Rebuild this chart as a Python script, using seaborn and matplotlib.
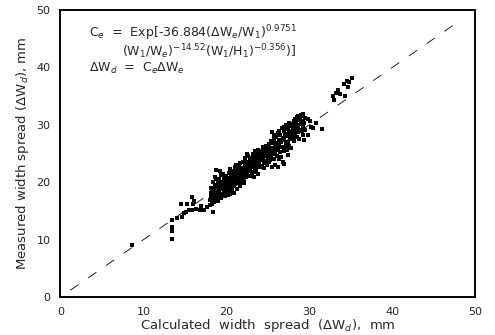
import matplotlib
matplotlib.use("Agg")
import matplotlib.pyplot as plt
import seaborn as sns
import pandas as pd

# Low / scattered points
low_x = [8.6, 13.4, 13.4, 13.4, 13.5, 14.0, 14.6, 14.5, 15.3, 15.9, 16.1, 16.0, 14.9, 15.1, 15.5, 15.9,
         16.4, 16.8, 17.0, 17.3, 17.7, 18.0, 18.35]
low_y = [9.1, 13.4, 12.3, 11.6, 10.1, 13.8, 14.0, 16.2, 16.2, 17.4, 16.8, 16.2, 14.6, 14.9, 15.1, 15.2,
         15.3, 15.1, 15.9, 15.2, 15.7, 16.0, 14.9]

# Main cluster (x, y pairs)
main_pts = [
    (18.0,17.0),(18.1,18.2),(18.2,17.6),(18.2,19.0),(18.3,18.5),(18.4,17.2),(18.4,20.1),(18.5,16.6),(18.5,18.9),(18.6,19.6),(18.6,17.9),(18.7,22.2),(18.7,16.9),(18.8,18.3),(18.8,20.6),(18.9,17.4),(18.9,19.2),(18.3,16.2),(18.6,21.0),(18.9,18.0),
    (19.0,19.9),(19.0,16.8),(19.1,18.6),(19.1,20.5),(19.2,17.5),(19.2,19.3),(19.3,18.0),(19.3,21.3),(19.4,19.7),(19.4,17.2),(19.5,18.8),(19.5,20.1),(19.6,17.9),(19.6,19.0),(19.7,20.8),(19.7,18.3),(19.8,19.6),(19.8,17.6),(19.9,20.3),(19.9,18.9),(19.2,22.0),(19.6,21.5),
    (20.0,19.4),(20.0,21.1),(20.1,18.2),(20.1,20.0),(20.2,19.1),(20.2,20.8),(20.3,21.7),(20.3,18.6),(20.4,20.3),(20.4,19.5),(20.5,22.3),(20.5,18.0),(20.6,20.9),(20.6,19.8),(20.7,21.4),(20.7,18.8),(20.8,20.5),(20.8,22.0),(20.9,19.3),(20.9,21.0),(20.2,17.8),(20.6,18.3),(20.9,18.1),
    (21.0,20.4),(21.0,22.6),(21.1,19.7),(21.1,21.5),(21.2,20.9),(21.2,23.0),(21.3,19.9),(21.3,22.1),(21.4,21.0),(21.4,20.2),(21.5,22.8),(21.5,21.6),(21.6,19.5),(21.6,20.7),(21.7,23.4),(21.7,22.2),(21.8,21.2),(21.8,20.0),(21.9,22.5),(21.9,21.0),(21.3,18.9),(21.7,19.3),
    (22.0,21.8),(22.0,23.6),(22.1,20.6),(22.1,22.4),(22.2,23.1),(22.2,21.2),(22.3,24.2),(22.3,22.0),(22.4,20.9),(22.4,23.5),(22.5,22.6),(22.5,21.5),(22.6,24.6),(22.6,23.0),(22.7,21.9),(22.7,22.8),(22.8,24.0),(22.8,21.1),(22.9,23.3),(22.9,22.2),(22.1,19.9),(22.5,24.9),
    (23.0,22.6),(23.0,24.3),(23.1,21.5),(23.1,23.2),(23.2,25.0),(23.2,22.9),(23.3,23.8),(23.3,21.8),(23.4,24.6),(23.4,22.4),(23.5,23.4),(23.5,25.4),(23.6,22.0),(23.6,24.1),(23.7,23.0),(23.7,24.8),(23.8,22.7),(23.8,25.6),(23.9,23.6),(23.9,24.4),(23.3,20.9),(23.8,21.5),
    (24.0,23.2),(24.0,25.0),(24.1,24.3),(24.1,22.6),(24.2,25.5),(24.2,23.9),(24.3,24.7),(24.3,22.9),(24.4,26.1),(24.4,24.0),(24.5,23.4),(24.5,25.2),(24.6,24.5),(24.6,22.5),(24.7,25.8),(24.7,23.7),(24.8,24.9),(24.8,26.3),(24.9,23.1),(24.9,25.4),
    (25.0,24.2),(25.0,26.0),(25.1,25.1),(25.1,23.5),(25.2,26.6),(25.2,24.8),(25.3,25.6),(25.3,23.8),(25.4,27.2),(25.4,24.4),(25.5,25.9),(25.5,22.6),(25.6,26.9),(25.6,24.9),(25.7,28.3),(25.7,25.4),(25.8,27.6),(25.8,24.1),(25.9,26.4),(25.9,25.0),(25.5,28.8),(25.9,23.1),
    (26.0,25.6),(26.0,27.9),(26.1,24.6),(26.1,26.8),(26.2,28.6),(26.2,25.9),(26.3,27.3),(26.3,24.0),(26.4,29.0),(26.4,26.3),(26.5,25.2),(26.5,28.2),(26.6,27.0),(26.6,24.4),(26.7,29.4),(26.7,26.1),(26.8,27.7),(26.8,23.6),(26.9,28.9),(26.9,25.5),(26.2,22.6),(26.9,23.2),
    (27.0,27.4),(27.0,29.6),(27.1,26.2),(27.1,28.5),(27.2,29.9),(27.2,26.8),(27.3,28.0),(27.3,25.7),(27.4,29.2),(27.4,27.1),(27.5,30.4),(27.5,28.7),(27.6,26.4),(27.6,29.8),(27.7,28.3),(27.7,27.5),(27.8,30.1),(27.8,26.0),(27.9,29.0),(27.9,28.0),(27.4,24.8),
    (28.0,29.5),(28.0,27.7),(28.1,30.6),(28.1,28.8),(28.2,29.9),(28.2,27.2),(28.3,31.0),(28.3,28.4),(28.4,30.3),(28.4,29.3),(28.5,31.4),(28.5,27.9),(28.6,30.0),(28.6,28.7),(28.7,31.6),(28.7,29.6),(28.8,30.8),(28.8,27.5),(28.9,31.2),(28.9,29.1),
    (29.0,31.8),(29.0,30.2),(29.1,29.0),(29.1,31.5),(29.2,30.7),(29.2,28.3),(29.3,31.9),(29.3,29.7),(29.4,30.4),(29.4,27.4),(29.5,31.2),(29.5,29.1),
    (29.9,31.0),(30.1,30.6),(30.2,29.6),(30.5,29.4),(30.8,30.3),(31.5,29.2),(29.8,28.2),
]
main_x = [p[0] for p in main_pts]
main_y = [p[1] for p in main_pts]

# Upper group
up_x = [32.9, 33.0, 33.2, 33.5, 33.7, 34.2, 34.3, 34.5, 34.7, 34.8, 35.1]
up_y = [35.0, 34.4, 35.6, 36.1, 35.4, 37.1, 35.0, 37.6, 36.6, 37.4, 38.2]

# 1:1 reference line endpoints
line_x = [1.2, 48.2]
line_y = [1.2, 48.2]

xticks = [0, 10, 20, 30, 40, 50]
yticks = [0, 10, 20, 30, 40, 50]

df = pd.DataFrame({"x": low_x + main_x + up_x, "y": low_y + main_y + up_y})

sns.set_style("white")
plt.rcParams['font.family'] = ['DejaVu Sans']

fig = plt.figure(figsize=(4.95, 3.35), dpi=100)
ax = fig.add_axes([0.122, 0.113, 0.838, 0.857])

sns.lineplot(x=line_x, y=line_y, ax=ax, color="black", lw=0.6,
             linestyle=(0, (12, 14)))
sns.scatterplot(data=df, x="x", y="y", ax=ax, color="black", marker="s",
                s=5, linewidth=0)

ax.set_xlim(0, 50)
ax.set_ylim(0, 50)
ax.set_xticks(xticks)
ax.set_yticks(yticks)
ax.set_xticks([5, 15, 25, 35, 45], minor=True)
ax.set_yticks([5, 15, 25, 35, 45], minor=True)
ax.tick_params(which="major", direction="in", length=3, width=0.8, labelsize=8, pad=7)
ax.tick_params(which="minor", direction="in", length=2, width=0.6)
for s in ax.spines.values():
    s.set_color("black")
    s.set_linewidth(1.4)

ax.set_xlabel(r"Calculated  width  spread  ($\Delta$W$_d$),  mm", fontsize=9.5, labelpad=0)
ax.set_ylabel(r"Measured width spread ($\Delta$W$_d$), mm", fontsize=9.5, labelpad=4)

ax.text(3.4, 45.9, r"C$_e$  =  Exp[-36.884($\Delta$W$_e$/W$_1$)$^{0.9751}$", fontsize=9, va="center")
ax.text(7.4, 42.8, r"(W$_1$/W$_e$)$^{-14.52}$(W$_1$/H$_1$)$^{-0.356}$)]", fontsize=9, va="center")
ax.text(3.4, 39.8, r"$\Delta$W$_d$  =  C$_e\Delta$W$_e$", fontsize=9, va="center")

fig.savefig("out.png", dpi=100)
